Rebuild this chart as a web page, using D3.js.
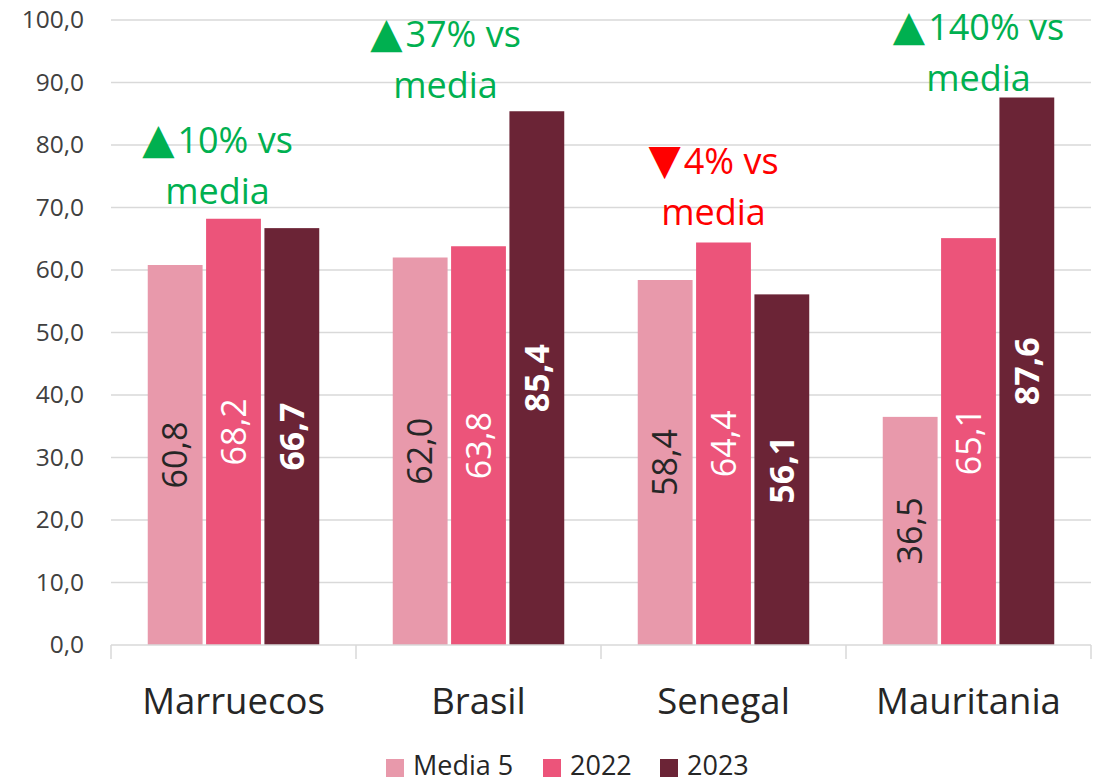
<!DOCTYPE html>
<html>
<head>
<meta charset="utf-8">
<script src="https://cdn.jsdelivr.net/npm/d3@7"></script>
<style>
  html, body { margin: 0; padding: 0; background: #fff; }
  svg { display: block; font-family: "Open Sans", "Noto Sans", sans-serif; }
</style>
</head>
<body>
<svg id="chart" width="1104" height="782"></svg>
<script>
const categories = ["Marruecos", "Brasil", "Senegal", "Mauritania"];
const seriesNames = ["Media 5", "2022", "2023"];
const media5 = [60.8, 62.0, 58.4, 36.5];
const y2022 = [68.2, 63.8, 64.4, 65.1];
const y2023 = [66.7, 85.4, 56.1, 87.6];
const yTicks = [0, 10, 20, 30, 40, 50, 60, 70, 80, 90, 100];
const notes = ["▲10% vs", "▲37% vs", "▼4% vs", "▲140% vs"];
const noteUp = [true, true, false, true];

// layout tweaks for the hand-placed text boxes
const noteDx = [-16, -33, -10, 10];
const noteDy = [-15, -13, -18, -7];

const colors = ["#E899AB", "#EC547A", "#6B2436"];
const labelColors = ["#262626", "#ffffff", "#ffffff"];
const labelWeights = ["400", "400", "700"];

const values = [media5, y2022, y2023];
const rows = categories.map((c, i) => ({
  cat: c,
  vals: seriesNames.map((s, j) => ({ series: s, idx: j, value: values[j][i] }))
}));

const svg = d3.select("#chart");
const plotL = 111, plotR = 1091, plotT = 20, plotB = 645;

const x = d3.scaleBand().domain(categories).range([plotL, plotR])
  .paddingInner(0.3).paddingOuter(0.15);
const xs = d3.scaleBand().domain(seriesNames).range([0, x.bandwidth()])
  .paddingInner(0.06);
const y = d3.scaleLinear().domain([0, 100]).range([plotB, plotT]);

const fmt = v => d3.format(".1f")(v).replace(".", ",");

// gridlines
svg.append("g")
  .selectAll("line")
  .data(yTicks.filter(t => t > 0))
  .join("line")
  .attr("x1", plotL).attr("x2", plotR)
  .attr("y1", d => y(d)).attr("y2", d => y(d))
  .attr("stroke", "#D9D9D9").attr("stroke-width", 1.5);

// y axis labels
const yAxis = svg.append("g")
  .attr("transform", `translate(${plotL},0)`)
  .call(d3.axisLeft(y).tickValues(yTicks).tickFormat(fmt).tickSize(0).tickPadding(27));
yAxis.select(".domain").remove();
yAxis.selectAll("text")
  .attr("fill", "#404040")
  .style("font-size", "24.5px")
  .attr("font-family", "Open Sans");

// bars
const groups = svg.append("g")
  .selectAll("g")
  .data(rows)
  .join("g")
  .attr("transform", d => `translate(${x(d.cat)},0)`);

groups.selectAll("rect")
  .data(d => d.vals)
  .join("rect")
  .attr("x", d => xs(d.series))
  .attr("y", d => y(d.value))
  .attr("width", xs.bandwidth())
  .attr("height", d => y(0) - y(d.value))
  .attr("fill", d => colors[d.idx]);

// value labels, rotated, centred in bar
groups.selectAll("text.val")
  .data(d => d.vals)
  .join("text")
  .attr("class", "val")
  .attr("transform", d => `translate(${xs(d.series) + xs.bandwidth() / 2},${(y(d.value) + y(0)) / 2}) rotate(-90)`)
  .attr("text-anchor", "middle")
  .attr("dy", "0.36em")
  .attr("fill", d => labelColors[d.idx])
  .style("font-size", "34px")
  .style("font-weight", d => labelWeights[d.idx])
  .text(d => fmt(d.value));

// x axis
const xAxisG = svg.append("g");
xAxisG.append("line")
  .attr("x1", plotL).attr("x2", plotR)
  .attr("y1", plotB).attr("y2", plotB)
  .attr("stroke", "#D9D9D9").attr("stroke-width", 1.5);
const bounds = categories.map(c => x(c) - x.step() * x.paddingInner() / 2).concat([plotR]);
xAxisG.selectAll("line.tick")
  .data(bounds)
  .join("line")
  .attr("class", "tick")
  .attr("x1", d => d).attr("x2", d => d)
  .attr("y1", plotB).attr("y2", plotB + 14)
  .attr("stroke", "#D9D9D9").attr("stroke-width", 1.5);
xAxisG.selectAll("text")
  .data(categories)
  .join("text")
  .attr("x", d => x(d) + x.bandwidth() / 2)
  .attr("y", 714)
  .attr("text-anchor", "middle")
  .attr("fill", "#262626")
  .style("font-size", "36.5px")
  .text(d => d);

// annotations
rows.forEach((r, i) => {
  const maxV = d3.max(r.vals, d => d.value);
  const cx = x(r.cat) + x.bandwidth() / 2 + noteDx[i];
  const base = y(maxV) + noteDy[i];
  const col = noteUp[i] ? "#00B050" : "#FF0000";
  const t = svg.append("text")
    .attr("text-anchor", "middle")
    .attr("fill", col)
    .style("font-size", "36px");
  const line1 = t.append("tspan")
    .attr("x", cx).attr("y", base - 51);
  line1.append("tspan")
    .attr("font-family", "DejaVu Sans")
    .style("font-size", "42px")
    .text(notes[i].charAt(0));
  line1.append("tspan")
    .attr("dx", 3)
    .text(notes[i].slice(1));
  t.append("tspan")
    .attr("x", cx).attr("y", base)
    .text("media");
});

// legend
const legend = svg.append("g").attr("transform", "translate(386,759)");
const legX = [0, 157, 274];
seriesNames.forEach((s, i) => {
  const g = legend.append("g").attr("transform", `translate(${legX[i]},0)`);
  g.append("rect").attr("width", 18).attr("height", 18).attr("fill", colors[i]);
  g.append("text").attr("x", 27).attr("y", 16)
    .attr("fill", "#262626")
    .style("font-size", "27px")
    .text(s);
});
</script>
</body>
</html>
